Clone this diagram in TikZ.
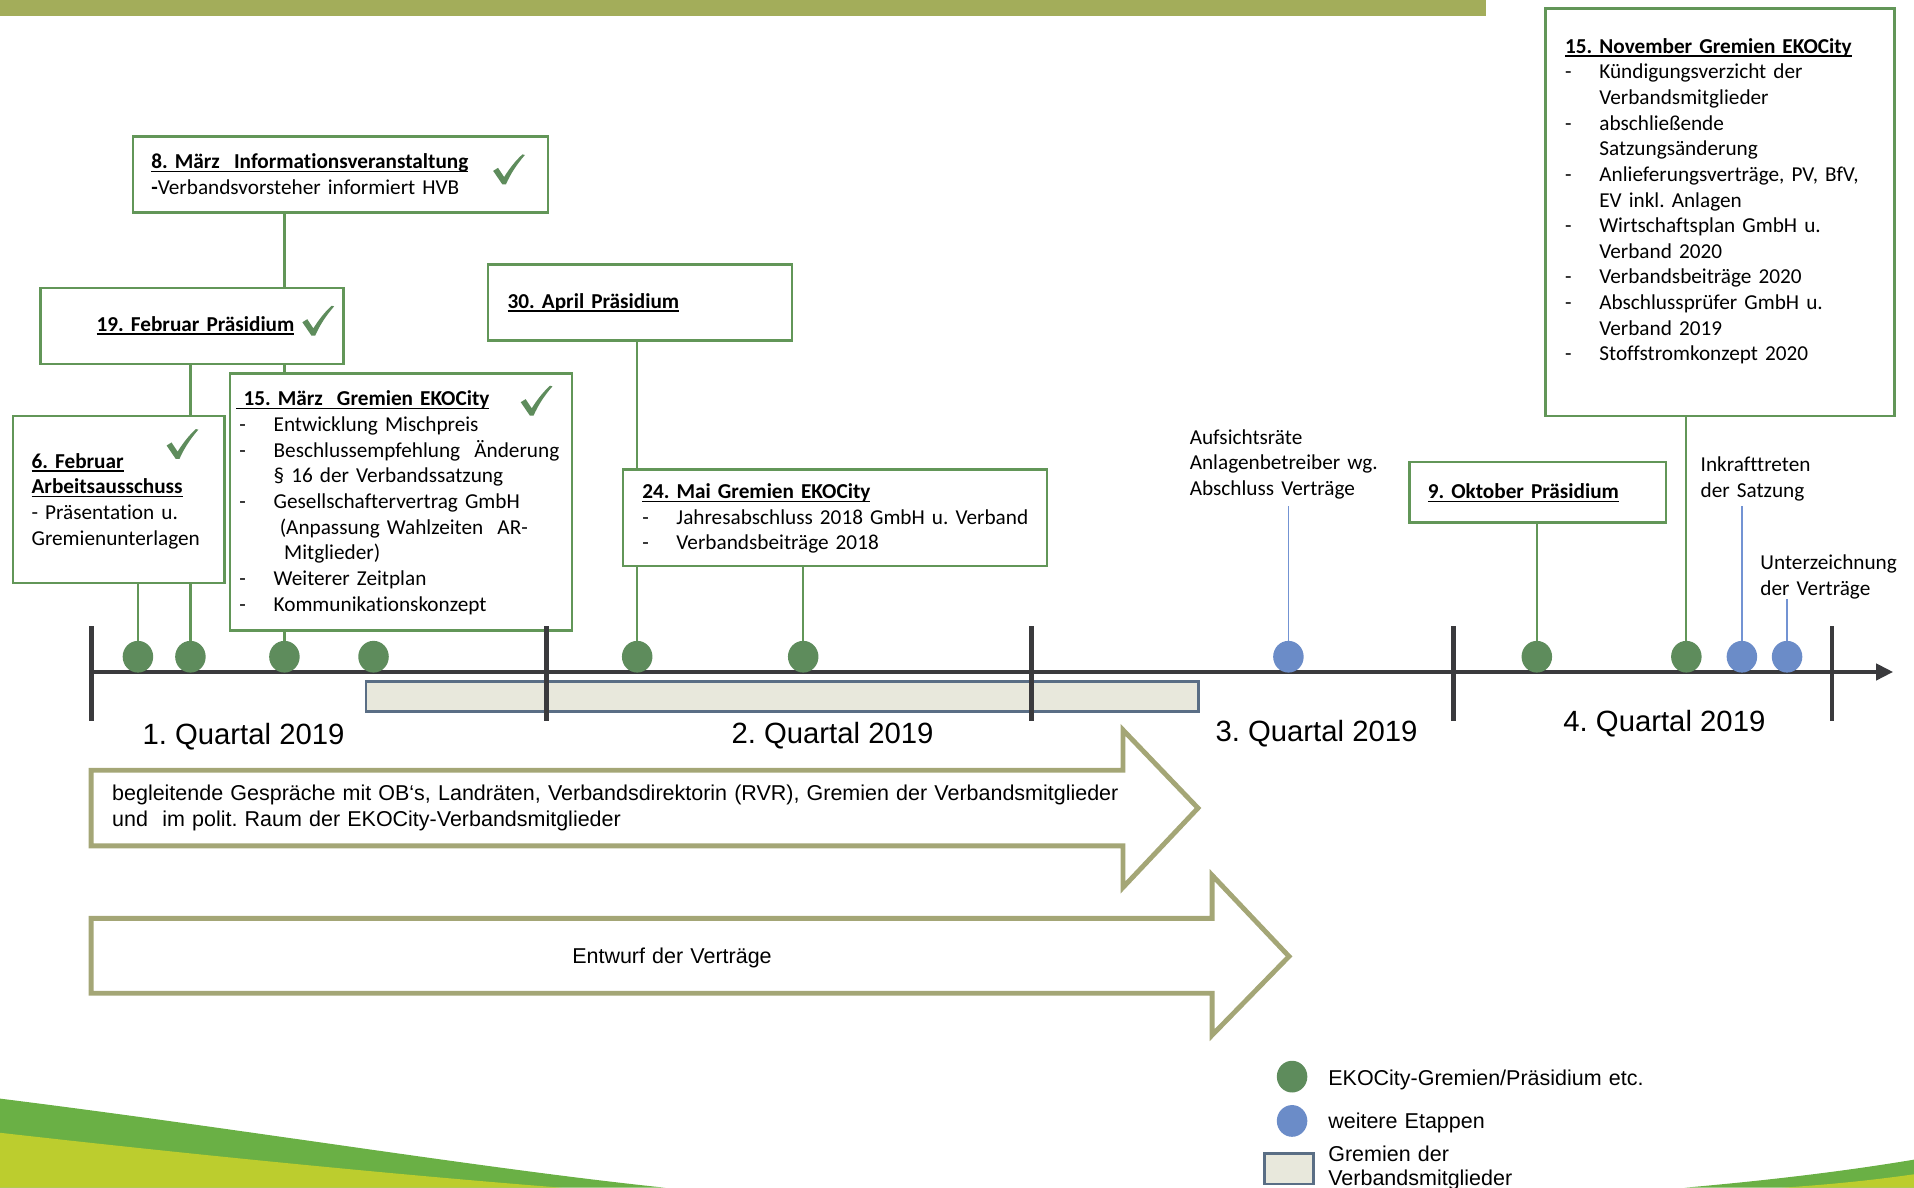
\documentclass[tikz,border=0pt]{standalone}
\usepackage{fontspec}
\setmainfont{Carlito}[Ligatures=NoCommon]
\newfontfamily\arialfont{Liberation Sans}
\usepackage{xcolor}
\usepackage{tikz}
\usetikzlibrary{arrows.meta}
\usetikzlibrary{backgrounds}
\usetikzlibrary{shapes.geometric}

\definecolor{boxgreen}{HTML}{629658}
\definecolor{dotgreen}{HTML}{5E8C5C}
\definecolor{dotblue}{HTML}{6B8CC8}
\definecolor{stemblue}{HTML}{7393D3}
\definecolor{axisgray}{HTML}{3A3A3D}
\definecolor{arrowolive}{HTML}{A4A676}
\definecolor{topbar}{HTML}{A3AD5A}
\definecolor{barfill}{HTML}{E8E8DC}
\definecolor{barline}{HTML}{5A6E85}
\definecolor{swgreen}{HTML}{6AB045}
\definecolor{swlime}{HTML}{BCCD2E}

\newcommand{\hd}[1]{\leavevmode\setbox0=\hbox{\bfseries #1}\rlap{\rule[-2.8pt]{\wd0}{1.1pt}}\box0}
\newcommand{\itm}[1]{\makebox[28pt][l]{-}#1}
\newcommand{\cnt}[1]{\hspace*{28pt}#1}

\tikzset{
    pics/check/.style = {
    code = {
		\fill[dotgreen] (-13,1) -- (-9,-1.5) -- (-4,6) .. controls (1,-2) and (6,-8) .. (11,-12.5)
         -- (13,-12) .. controls (6,-4) and (1,4) .. (-2.5,12) -- (-5.5,12) -- cycle;
    }}
}

\begin{document}
\frenchspacing
\begin{tikzpicture}[x=1pt, y=-1pt,
	gbox/.style={draw=boxgreen, line width=2pt, fill=white, inner sep=0pt, anchor=north west},
	gremien/.style={draw=barline, line width=2pt, fill=barfill, inner sep=0pt, anchor=north west},
	lbl/.style={inner sep=0pt, anchor=base west, align=left, text width=#1, font=\frenchspacing\fontsize{17.4}{21}\selectfont},
	lbl/.default=400pt,
	sans/.style={inner sep=0pt, anchor=base west, align=left, text width=#1, font=\frenchspacing\arialfont\fontsize{17.6}{21.3}\selectfont},
	sans/.default=850pt,
	quartal/.style={inner sep=0pt, anchor=base, font=\frenchspacing\arialfont\fontsize{24}{28}\selectfont},
	gdot/.style={ellipse, fill=dotgreen, minimum width=25pt, minimum height=26pt, inner sep=0pt},
	bdot/.style={ellipse, fill=dotblue, minimum width=25pt, minimum height=26pt, inner sep=0pt},
	axisline/.style={draw=axisgray, line width=3.5pt},
	gstem/.style={draw=boxgreen, line width=1.8pt},
	bstem/.style={draw=stemblue, line width=1.5pt},
	bigarrow/.style={draw=arrowolive, line width=4pt, fill=white, line join=miter}]

		\useasboundingbox (0,0) rectangle (1568,973);

		% header bar and corner swooshes
		\fill[topbar] (0,0) rectangle (1217,13);
		\fill[swgreen] (0,900) .. controls (200,925) and (400,958) .. (545,973) -- (0,973) -- cycle;
		\fill[swlime] (0,928) .. controls (150,945) and (320,962) .. (460,973) -- (0,973) -- cycle;
		\fill[swgreen] (1380,973) .. controls (1460,966) and (1520,958) .. (1568,950) -- (1568,973) -- cycle;
		\fill[swlime] (1460,973) .. controls (1505,970) and (1540,966) .. (1568,962) -- (1568,973) -- cycle;

		% boxes
		\node[gbox, minimum width=340pt, minimum height=62pt] (maerz8) at (108,111) {};
		\node[lbl] (maerz8text) at (123.8,138) {\hd{8. März\ \ Informationsveranstaltung}\\\textbf{-}Verbandsvorsteher informiert HVB};
		\pic at (417,139) {check};

		\node[gbox, minimum width=248pt, minimum height=62pt] (feb19) at (32.3,235) {};
		\node[lbl] (feb19text) at (79,271.5) {\hd{19. Februar Präsidium}};
		\pic at (260.7,263) {check};

		\node[gbox, minimum width=173.5pt, minimum height=136.5pt] (feb6) at (9.5,340) {};
		\node[lbl] (feb6text) at (25.7,383.5) {\hd{6. Februar}\\\hd{Arbeitsausschuss}\\- Präsentation u.\\Gremienunterlagen};
		\pic at (149.5,364) {check};

		\node[gbox, minimum width=280pt, minimum height=210.5pt] (maerz15) at (187.5,305) {};
		\node[lbl] (maerz15text) at (196,332.6) {\hspace*{-2.5pt}\hd{\ 15. März\ \ Gremien EKOCity}\\
			\itm{Entwicklung Mischpreis}\\
			\itm{Beschlussempfehlung\ \ Änderung}\\
			\cnt{§ 16 der Verbandssatzung}\\
			\itm{Gesellschaftervertrag GmbH}\\
			\hspace*{33pt}(Anpassung Wahlzeiten\ \ AR-\\
			\hspace*{36.6pt}Mitglieder)\\
			\itm{Weiterer Zeitplan}\\
			\itm{Kommunikationskonzept}};
		\pic at (439.6,328.5) {check};

		\node[gbox, minimum width=248.7pt, minimum height=62.3pt] (apr30) at (399,215.7) {};
		\node[lbl] (apr30text) at (415.7,252.6) {\hd{30. April Präsidium}};

		\node[gbox, minimum width=347.3pt, minimum height=79pt] (mai24) at (509.5,383.5) {};
		\node[lbl] (mai24text) at (526,408.4) {\hd{24. Mai Gremien EKOCity}\\
			\itm{Jahresabschluss 2018 GmbH u. Verband}\\
			\itm{Verbandsbeiträge 2018}};

		\node[gbox, minimum width=210.4pt, minimum height=49.5pt] (okt9) at (1153.6,377.5) {};
		\node[lbl] (okt9text) at (1169.5,408.6) {\hd{9. Oktober Präsidium}};

		\node[gbox, minimum width=286pt, minimum height=334pt] (nov15) at (1265,6) {};
		\node[lbl] (nov15text) at (1282,43.6) {\hd{15. November Gremien EKOCity}\\
			\itm{Kündigungsverzicht der}\\
			\cnt{Verbandsmitglieder}\\
			\itm{abschließende}\\
			\cnt{Satzungsänderung}\\
			\itm{Anlieferungsverträge, PV, BfV,}\\
			\cnt{EV inkl. Anlagen}\\
			\itm{Wirtschaftsplan GmbH u.}\\
			\cnt{Verband 2020}\\
			\itm{Verbandsbeiträge 2020}\\
			\itm{Abschlussprüfer GmbH u.}\\
			\cnt{Verband 2019}\\
			\itm{Stoffstromkonzept 2020}};

		% free labels
		\node[lbl] (aufsicht) at (974.5,364) {Aufsichtsräte\\Anlagenbetreiber wg.\\Abschluss Verträge};
		\node[lbl] (inkraft) at (1393,386.6) {Inkrafttreten\\der Satzung};
		\node[lbl] (unterz) at (1442,466.6) {Unterzeichnung\\der Verträge};

		% timeline
		\node[gremien, minimum width=681.7pt, minimum height=24.6pt] (gremien) at (299,557.2) {};
		\coordinate (axstart) at (75,550.5);
		\coordinate (axend) at (1551,550.5);
		\draw[axisline, -{Triangle[length=14pt, width=13pt]}] (axstart) -- (axend);
		\foreach \x in {75,447.8,845,1190.7,1501}
			\draw[axisline] (\x,513) -- (\x,591);

		\node[gdot] (dfeb6) at (113,538) {};
		\node[gdot] (dfeb19) at (156,538) {};
		\node[gdot] (dmaerz8) at (233,538) {};
		\node[gdot] (dmaerz15) at (306,538) {};
		\node[gdot] (dapr30) at (522,538) {};
		\node[gdot] (dmai24) at (658,538) {};
		\node[bdot] (daufsicht) at (1055.5,538) {};
		\node[gdot] (dokt9) at (1259,538) {};
		\node[gdot] (dnov15) at (1381.5,538) {};
		\node[bdot] (dinkraft) at (1427,538) {};
		\node[bdot] (dunterz) at (1464,538) {};

		\node[quartal] (q1) at (199.5,610) {1. Quartal 2019};
		\node[quartal] (q2) at (682,609) {2. Quartal 2019};
		\node[quartal] (q3) at (1078.5,607.5) {3. Quartal 2019};
		\node[quartal] (q4) at (1363.5,599) {4. Quartal 2019};

		% big arrows
		\draw[bigarrow] (74.7,631) -- (920,631) -- (920,598) -- (981.4,662) -- (920,727) -- (920,693) -- (74.7,693) -- cycle;
		\node[sans] (gespraeche) at (91.7,656) {begleitende Gespräche mit OB‘s, Landräten, Verbandsdirektorin (RVR), Gremien der Verbandsmitglieder\\und\ \ im polit. Raum der EKOCity-Verbandsmitglieder};

		\draw[bigarrow] (74.7,752.3) -- (993,752.3) -- (993,717) -- (1056,783.5) -- (993,848) -- (993,813.7) -- (74.7,813.7) -- cycle;
		\node[sans] (entwurf) at (468.6,789.7) {Entwurf der Verträge};

		% legend
		\node[gdot] (leggreen) at (1058.5,882) {};
		\node[bdot] (legblue) at (1058.5,918.3) {};
		\node[gremien, minimum width=40pt, minimum height=25pt] (legbar) at (1035,944) {};
		\node[sans] (leggreentext) at (1088,889) {EKOCity-Gremien/Präsidium etc.};
		\node[sans] (legbluetext) at (1088,924.5) {weitere Etappen};
		\node[sans, font=\arialfont\fontsize{17.6}{20}\selectfont] (legbartext) at (1088,951.5) {Gremien der\\Verbandsmitglieder};

		% stems
		\begin{scope}[on background layer]
			\draw[gstem] (dfeb6) -- (dfeb6 |- feb6.south);
			\draw[gstem] (dfeb19) -- (dfeb19 |- feb19.south);
			\draw[gstem] (dmaerz8) -- (dmaerz8 |- maerz8.south);
			\draw[gstem] (dapr30) -- (dapr30 |- apr30.south);
			\draw[gstem] (dmai24) -- (dmai24 |- mai24.south);
			\draw[gstem] (dokt9) -- (dokt9 |- okt9.south);
			\draw[gstem] (dnov15) -- (dnov15 |- nov15.south);
			\draw[bstem, shorten >=5pt] (daufsicht) -- (daufsicht |- aufsicht.south);
			\draw[bstem, shorten >=3.5pt] (dinkraft) -- (dinkraft |- inkraft.south);
			\draw[bstem] (dunterz) -- (dunterz |- unterz.south);
		\end{scope}
\end{tikzpicture}
\end{document}
